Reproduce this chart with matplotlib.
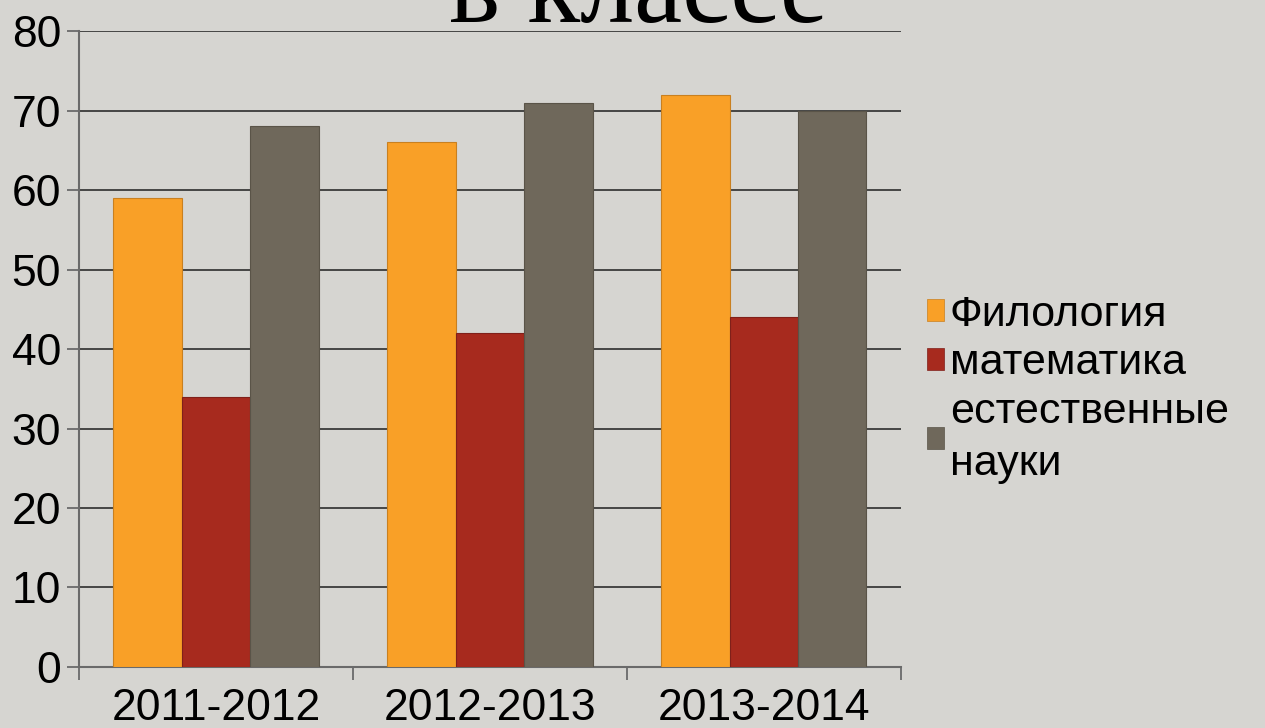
import matplotlib
matplotlib.use("Agg")
import matplotlib.pyplot as plt
from matplotlib.patches import Patch
import numpy as np

categories = ["2011-2012", "2012-2013", "2013-2014"]
series_names = ["Филология", "математика", "естественные\nнауки"]
filology = [59, 66, 72]
mathematics = [34, 42, 44]
sciences = [68, 71, 70]
colors = ["#f9a027", "#a72a1e", "#6f685b"]
edge_colors = ["#c98020", "#80201a", "#5a5448"]
y_ticks = [0, 10, 20, 30, 40, 50, 60, 70, 80]
title_text = "в классе"

bg = "#d6d5d1"
fig = plt.figure(figsize=(12.65, 7.28), dpi=100, facecolor=bg)
ax = fig.add_axes([0.0625, 0.0838, 0.6495, 0.8736], facecolor=bg)

x = np.arange(len(categories))
w = 0.25
for i, vals in enumerate([filology, mathematics, sciences]):
    ax.bar(x + (i - 1) * w, vals, width=w, color=colors[i],
           edgecolor=edge_colors[i], linewidth=0.8, zorder=3,
           label=series_names[i])

ax.set_xlim(-0.5, len(categories) - 0.5)
ax.set_ylim(0, 80)
ax.set_yticks(y_ticks)
ax.set_yticklabels([str(v) for v in y_ticks], fontsize=32,
                   family=["Liberation Sans", "DejaVu Sans"])
ax.yaxis.grid(True, color="#3a3a3a", linewidth=1.3, zorder=1)
ax.set_axisbelow(True)

ax.set_xticks(x)
ax.set_xticklabels(categories, fontsize=32,
                   family=["Liberation Sans", "DejaVu Sans"])
ax.set_xticks(np.arange(-0.5, len(categories), 1.0), minor=True)
ax.tick_params(axis="x", which="major", length=0, pad=15)
ax.tick_params(axis="x", which="minor", length=9, width=1.3,
               color="#6a6a6a", direction="out")
ax.tick_params(axis="y", length=9, width=1.3, color="#6a6a6a",
               direction="out", pad=4)

for s in ["top", "right"]:
    ax.spines[s].set_visible(False)
for s in ["left", "bottom"]:
    ax.spines[s].set_color("#6a6a6a")
    ax.spines[s].set_linewidth(1.5)

handles = [Patch(facecolor=colors[i], edgecolor=edge_colors[i], linewidth=0.5)
           for i in range(3)]
leg = fig.legend(handles, series_names, loc="center left",
                 bbox_to_anchor=(0.733, 0.465), frameon=False,
                 prop={"family": ["Liberation Sans", "DejaVu Sans"], "size": 31},
                 handlelength=0.4, handleheight=0.4, handletextpad=0.12,
                 labelspacing=0.2, borderpad=0, borderaxespad=0)
for t in leg.get_texts():
    t.set_linespacing(1.4)

fig.text(0.505, 0.970, title_text, fontsize=78, ha="center", va="baseline",
         family=["Liberation Serif", "DejaVu Serif"], color="black")

fig.savefig("out.png", dpi=100, facecolor=bg)
